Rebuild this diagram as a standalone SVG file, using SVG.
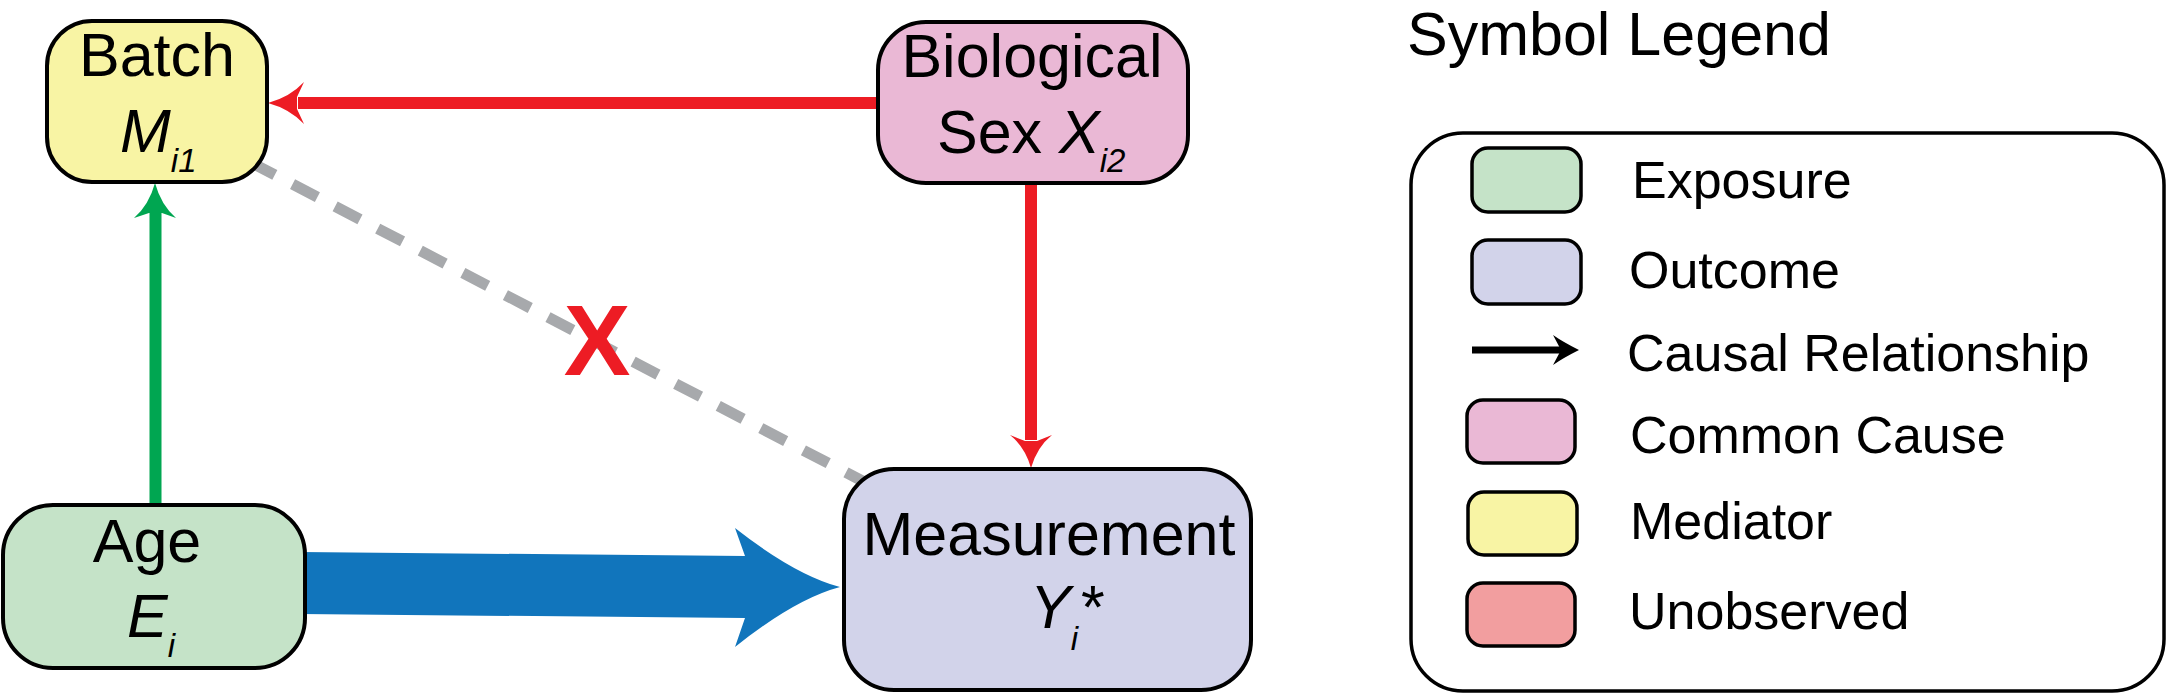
<svg xmlns="http://www.w3.org/2000/svg" width="2168" height="694" viewBox="0 0 2168 694">
<style>
text{font-family:"Liberation Sans",Arial,sans-serif;fill:#000}
.lbl{font-size:61px}
.it{font-style:italic}
.sub{font-size:33px;font-style:italic}
.leg{font-size:52px}
.node{stroke:#000;stroke-width:4}
.sw{stroke:#000;stroke-width:3.5}
.red{fill:#ED1C24}
</style>
<rect width="2168" height="694" fill="#fff"/>
<g id="connectors">
  <line x1="250" y1="162" x2="870" y2="485" stroke="#A7A9AC" stroke-width="11" stroke-dasharray="28 20"/>
  <line x1="880" y1="103" x2="298" y2="103" stroke="#ED1C24" stroke-width="12"/>
  <path class="red" d="M268,103 Q290,97 304,82 L297,97 L297,109 L304,124 Q290,109 268,103 Z"/>
  <line x1="1031" y1="183" x2="1031" y2="440" stroke="#ED1C24" stroke-width="12"/>
  <path class="red" d="M1031,468 Q1025,447 1010,435 L1025,441 L1037,441 L1052,435 Q1037,447 1031,468 Z"/>
  <line x1="155.5" y1="505" x2="155.5" y2="212" stroke="#00A651" stroke-width="12"/>
  <path fill="#00A651" d="M155,183 Q149,205 134,218 L149,213 L162,213 L176,218 Q161,205 155,183 Z"/>
  <path fill="#1175BC" d="M300,552 L745,556 L735,528 Q795,575 840,587 Q795,599 735,647 L745,618 L300,614 Z"/>
  <text x="597" y="375" text-anchor="middle" font-size="100" font-weight="bold" style="fill:#ED1C24">X</text>
</g>
<g id="batch">
  <rect class="node" x="47" y="21" width="220" height="161" rx="45" fill="#F8F4A4"/>
  <text class="lbl" x="157" y="76" text-anchor="middle">Batch</text>
  <text class="lbl" x="120" y="152"><tspan class="it">M</tspan><tspan class="sub" dy="20">i1</tspan></text>
</g>
<g id="biological-sex">
  <rect class="node" x="878" y="22" width="310" height="161" rx="48" fill="#EAB8D5"/>
  <text class="lbl" x="1032" y="77" text-anchor="middle">Biological</text>
  <text class="lbl" x="937" y="153">Sex <tspan class="it">X</tspan><tspan class="sub" dy="19">i2</tspan></text>
</g>
<g id="age">
  <rect class="node" x="3" y="505" width="302" height="163" rx="50" fill="#C5E3C8"/>
  <text class="lbl" x="147" y="562" text-anchor="middle">Age</text>
  <text class="lbl" x="127" y="637"><tspan class="it">E</tspan><tspan class="sub" dy="20">i</tspan></text>
</g>
<g id="measurement">
  <rect class="node" x="844" y="469" width="407" height="221" rx="50" fill="#D2D3EA"/>
  <text class="lbl" x="1049" y="555" text-anchor="middle">Measurement</text>
  <text class="lbl" x="1030" y="628"><tspan class="it">Y</tspan><tspan class="sub" dy="22">i</tspan><tspan dx="3" dy="-22">*</tspan></text>
</g>
<g id="legend">
  <text x="1407" y="55" font-size="61">Symbol Legend</text>
  <rect x="1411" y="133" width="753" height="558" rx="52" fill="#fff" stroke="#000" stroke-width="3.5"/>
  <rect class="sw" x="1472" y="148" width="109" height="64" rx="16" fill="#C5E3C8"/>
  <text class="leg" x="1632" y="198">Exposure</text>
  <rect class="sw" x="1472" y="240" width="109" height="64" rx="16" fill="#D2D3EA"/>
  <text class="leg" x="1629" y="288">Outcome</text>
  <line x1="1472" y1="350" x2="1562" y2="350" stroke="#000" stroke-width="7"/>
  <path d="M1579,350 Q1563,342 1553,335 L1561,350 L1553,365 Q1563,358 1579,350 Z" fill="#000"/>
  <text class="leg" x="1627" y="371">Causal Relationship</text>
  <rect class="sw" x="1467" y="400" width="108" height="63" rx="16" fill="#EAB8D5"/>
  <text class="leg" x="1630" y="453">Common Cause</text>
  <rect class="sw" x="1468" y="492" width="109" height="63" rx="16" fill="#F8F4A4"/>
  <text class="leg" x="1630" y="539">Mediator</text>
  <rect class="sw" x="1467" y="583" width="108" height="63" rx="16" fill="#F29E9F"/>
  <text class="leg" x="1629" y="629">Unobserved</text>
</g>
</svg>
